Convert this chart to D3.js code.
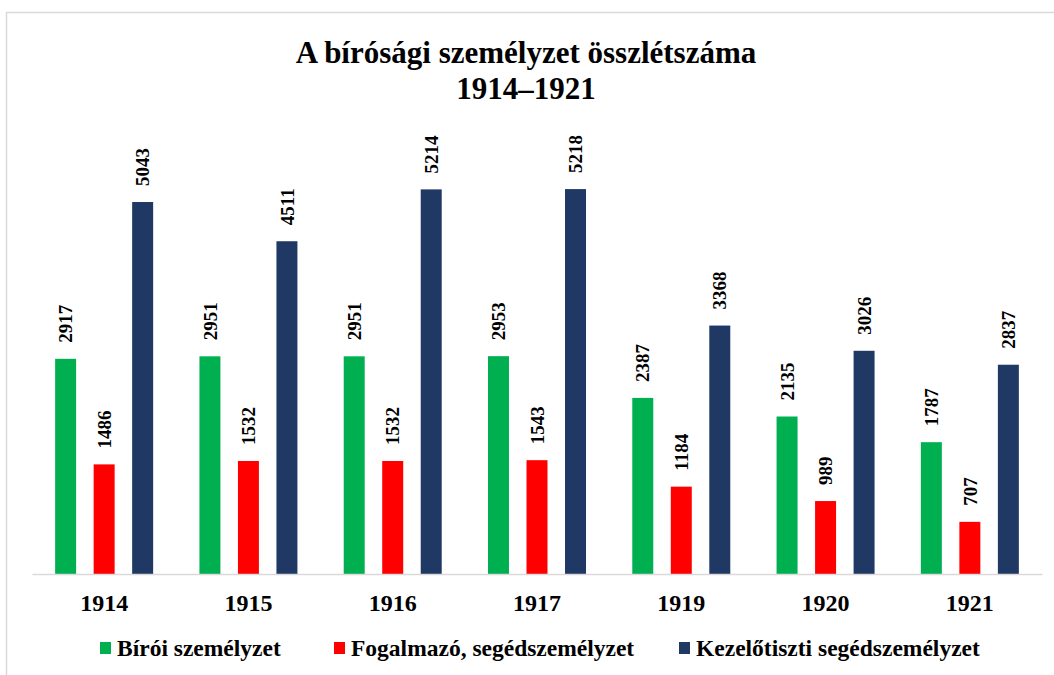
<!DOCTYPE html>
<html>
<head>
<meta charset="utf-8">
<script src="https://cdn.jsdelivr.net/npm/d3@7"></script>
<style>
  body { margin: 0; background: #fff; }
  svg { display: block; font-family: "Liberation Serif", "Times New Roman", serif; font-weight: bold; }
</style>
</head>
<body>
<div id="chart"></div>
<script>
const years = ["1914", "1915", "1916", "1917", "1919", "1920", "1921"];
const seriesNames = ["Bírói személyzet", "Fogalmazó, segédszemélyzet", "Kezelőtiszti segédszemélyzet"];
const biroi = [2917, 2951, 2951, 2953, 2387, 2135, 1787];
const fogalmazo = [1486, 1532, 1532, 1543, 1184, 989, 707];
const kezelo = [5043, 4511, 5214, 5218, 3368, 3026, 2837];
const colors = ["#00B050", "#FF0000", "#203864"];

const width = 1054, height = 675;
const values = [biroi, fogalmazo, kezelo];

const svg = d3.select("#chart").append("svg")
  .attr("width", width)
  .attr("height", height);

// chart frame
svg.append("rect")
  .attr("x", 6.5).attr("y", 12.5)
  .attr("width", 1100).attr("height", 700)
  .attr("fill", "none")
  .attr("stroke", "#d9d9d9")
  .attr("stroke-width", 1.5);

// title
const title = svg.append("text")
  .attr("text-anchor", "middle")
  .attr("font-size", 31)
  .attr("fill", "#000");
title.append("tspan").attr("x", 526).attr("y", 63).text("A bírósági személyzet összlétszáma");
title.append("tspan").attr("x", 526).attr("y", 99).text("1914–1921");

const x0 = d3.scaleBand().domain(years).range([32, 1042]);
const x1 = d3.scaleBand().domain(d3.range(3))
  .range([x0.bandwidth() / 2 - 49, x0.bandwidth() / 2 + 49])
  .paddingInner(0.455);
const y = d3.scaleLinear().domain([0, 6000]).range([574, 131.4]);

const groups = svg.selectAll("g.year")
  .data(years)
  .enter().append("g")
  .attr("class", "year")
  .attr("transform", d => `translate(${x0(d)},0)`);

groups.selectAll("rect")
  .data((d, i) => values.map((v, s) => ({ s, v: v[i] })))
  .enter().append("rect")
  .attr("x", d => x1(d.s))
  .attr("width", x1.bandwidth())
  .attr("y", d => y(d.v))
  .attr("height", d => y(0) - y(d.v))
  .attr("fill", d => colors[d.s]);

groups.selectAll("text.val")
  .data((d, i) => values.map((v, s) => ({ s, v: v[i] })))
  .enter().append("text")
  .attr("class", "val")
  .attr("transform", d => `translate(${x1(d.s) + x1.bandwidth() / 2},${y(d.v) - 16}) rotate(-90)`)
  .attr("dy", "0.35em")
  .attr("font-size", 19)
  .attr("fill", "#000")
  .text(d => d.v);

// x axis
const xAxis = svg.append("g")
  .attr("transform", `translate(0,${y(0)})`)
  .call(d3.axisBottom(x0).tickSize(0).tickPadding(20));
xAxis.select(".domain").attr("stroke", "#d9d9d9").attr("stroke-width", 1.5);
xAxis.selectAll("text")
  .attr("font-size", 24)
  .attr("font-family", "Liberation Serif, serif")
  .attr("font-weight", "bold")
  .attr("fill", "#000");

// legend
const legendX = [100, 334, 679];
const legend = svg.selectAll("g.legend")
  .data(seriesNames)
  .enter().append("g")
  .attr("class", "legend")
  .attr("transform", (d, i) => `translate(${legendX[i]},648)`);
legend.append("rect")
  .attr("x", 0).attr("y", -6)
  .attr("width", 11).attr("height", 12)
  .attr("fill", (d, i) => colors[i]);
legend.append("text")
  .attr("x", 17)
  .attr("dy", "0.35em")
  .attr("font-size", 23.5)
  .attr("fill", "#000")
  .text(d => d);
</script>
</body>
</html>
